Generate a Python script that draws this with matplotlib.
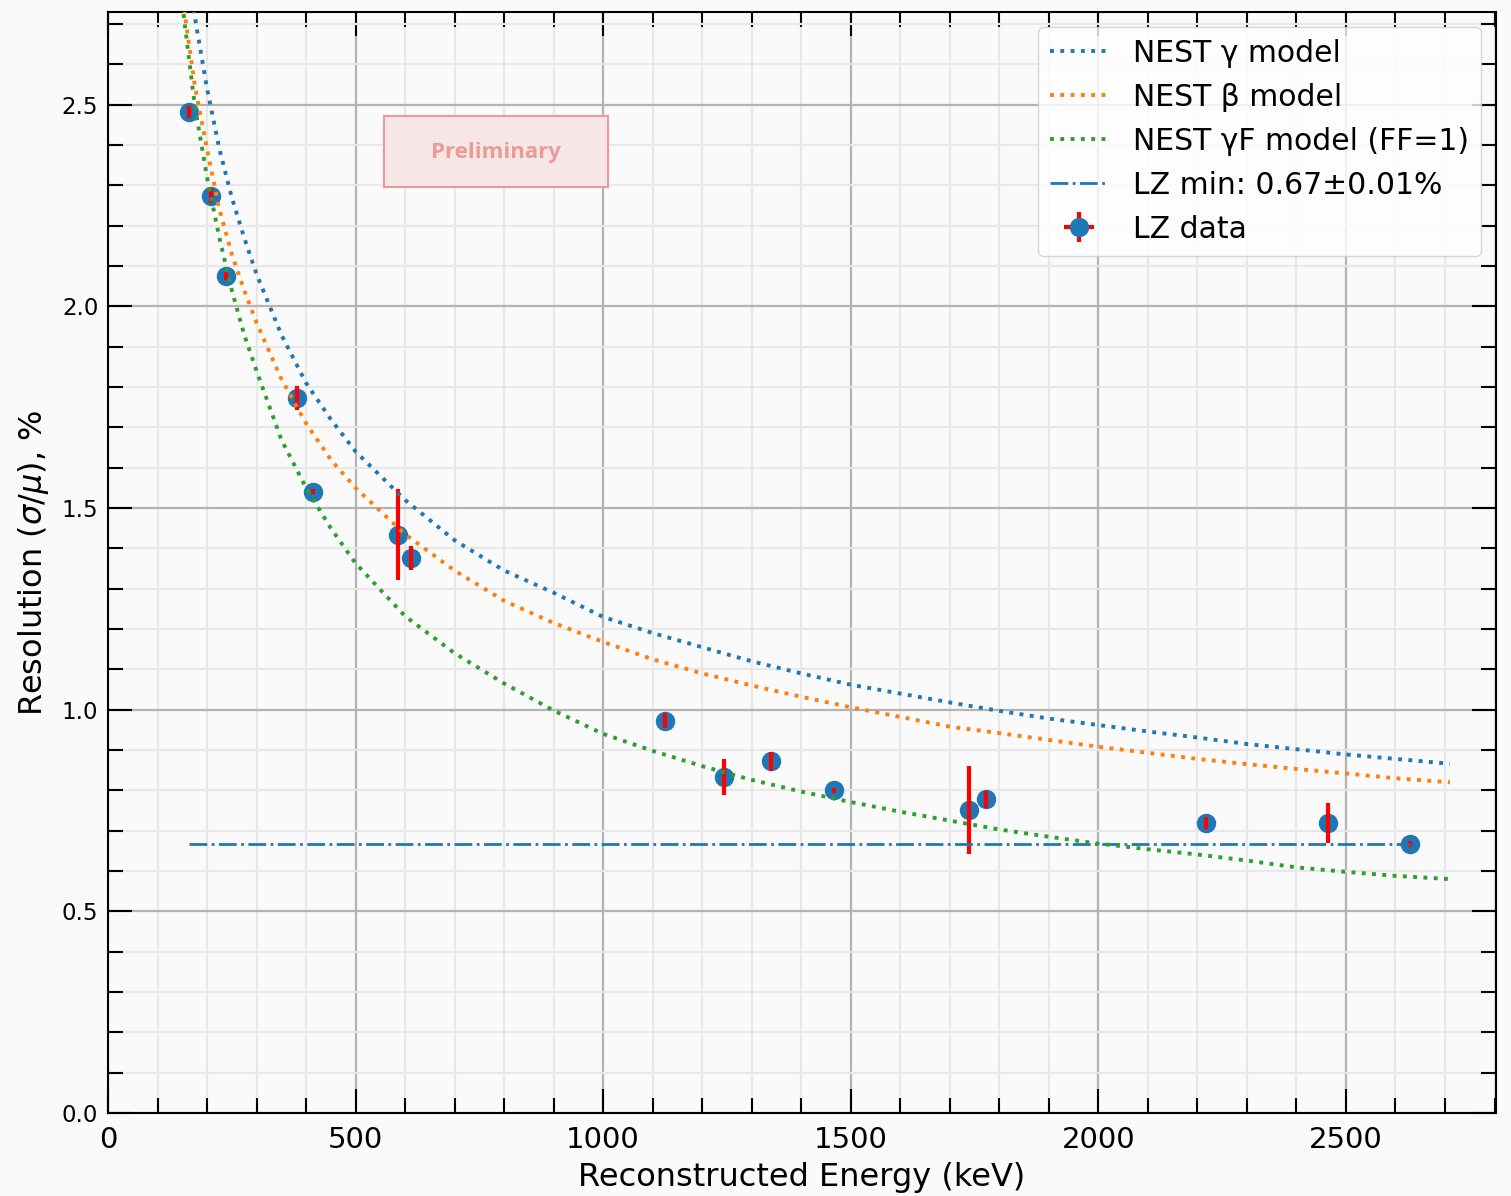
import matplotlib
matplotlib.use("Agg")
import matplotlib.pyplot as plt
from matplotlib.patches import Rectangle
from matplotlib.ticker import MultipleLocator

# ---- data ----
model_energy = [150, 175, 200, 225, 250, 275, 300, 350, 400, 450, 500, 600, 700, 800, 900,
                1000, 1100, 1200, 1300, 1400, 1500, 1600, 1700, 1800, 1900, 2000, 2100,
                2200, 2300, 2400, 2500, 2600, 2710]
nest_gamma = [2.93, 2.72, 2.54, 2.39, 2.27, 2.17, 2.08, 1.93, 1.81, 1.72, 1.64, 1.52, 1.42,
              1.345, 1.29, 1.23, 1.19, 1.155, 1.12, 1.09, 1.062, 1.04, 1.018, 0.997, 0.978,
              0.962, 0.946, 0.931, 0.915, 0.902, 0.889, 0.878, 0.866]
nest_beta = [2.77, 2.55, 2.39, 2.24, 2.13, 2.04, 1.96, 1.82, 1.71, 1.62, 1.55, 1.435, 1.345,
             1.27, 1.215, 1.168, 1.125, 1.09, 1.06, 1.032, 1.006, 0.982, 0.958, 0.942, 0.925,
             0.908, 0.893, 0.878, 0.865, 0.853, 0.842, 0.83, 0.82]
nest_gammaF = [2.75, 2.50, 2.32, 2.17, 2.04, 1.93, 1.84, 1.67, 1.55, 1.45, 1.363, 1.232, 1.14,
               1.065, 0.998, 0.94, 0.898, 0.86, 0.826, 0.797, 0.771, 0.747, 0.725, 0.703,
               0.685, 0.668, 0.654, 0.641, 0.626, 0.609, 0.598, 0.588, 0.580]

data_energy = [164, 208, 238, 381, 413, 585, 612, 1125, 1244, 1338, 1467, 1739, 1774, 2217, 2464, 2630]
data_res = [2.483, 2.275, 2.076, 1.773, 1.541, 1.434, 1.376, 0.973, 0.833, 0.872, 0.800,
            0.751, 0.778, 0.718, 0.719, 0.667]
data_res_err = [0.015, 0.019, 0.010, 0.029, 0.007, 0.113, 0.029, 0.019, 0.045, 0.023, 0.006,
                0.110, 0.021, 0.015, 0.049, 0.007]
data_energy_err = [2, 2, 2, 2, 2, 2, 2, 2, 2, 2, 2, 2, 2, 2, 2, 2]

lz_min = 0.667

bg = "#fafafa"
fig = plt.figure(figsize=(15.11, 11.96), dpi=100, facecolor=bg)
ax = fig.add_axes([108/1511, 1 - 1113/1196, 1388/1511, 1101/1196])
ax.set_facecolor(bg)

ax.plot(model_energy, nest_gamma, ':', color='tab:blue', lw=2.8, label='NEST γ model', zorder=5)
ax.plot(model_energy, nest_beta, ':', color='tab:orange', lw=2.8, label='NEST β model', zorder=5)
ax.plot(model_energy, nest_gammaF, ':', color='tab:green', lw=2.8, label='NEST γF model (FF=1)', zorder=5)
ax.plot([data_energy[0], data_energy[-1]], [lz_min, lz_min], '-.', color='tab:blue', lw=2,
        label='LZ min: 0.67±0.01%', zorder=4)
eb = ax.errorbar(data_energy, data_res, yerr=data_res_err, xerr=data_energy_err, fmt='o',
                 color='tab:blue', ecolor='red', elinewidth=3, ms=13, label='LZ data', zorder=3)
for bc in eb[2]:
    bc.set_zorder(3.5)

ax.set_xlim(0, 2803)
ax.set_ylim(0, 2.73)
ax.xaxis.set_major_locator(MultipleLocator(500))
ax.xaxis.set_minor_locator(MultipleLocator(100))
ax.yaxis.set_major_locator(MultipleLocator(0.5))
ax.yaxis.set_minor_locator(MultipleLocator(0.1))
ax.grid(which='major', color='#b3b3b3', lw=1.6, zorder=0)
ax.grid(which='minor', color='#e8e8e8', lw=1.6, zorder=0)
ax.set_axisbelow(True)

ax.tick_params(which='both', direction='in', top=True, right=True, width=1.5)
ax.tick_params(which='major', length=17)
ax.tick_params(which='minor', length=11)
ax.tick_params(axis='x', which='major', labelsize=21, pad=9)
ax.tick_params(axis='y', which='major', labelsize=16.5, pad=7)
for s in ax.spines.values():
    s.set_linewidth(1.5)

ax.set_xlabel('Reconstructed Energy (keV)', fontsize=23, labelpad=6)
ax.set_ylabel(r'Resolution ($\sigma/\mu$), %', fontsize=23, labelpad=8)

ax.add_patch(Rectangle((0.1988, 0.841), 0.1614, 0.0645, transform=ax.transAxes,
                       facecolor='#f6e6e6', edgecolor='#eb9a9a', lw=1.5, zorder=6))
ax.text(0.2795, 0.8728, 'Preliminary', transform=ax.transAxes, ha='center', va='center',
        fontsize=16, fontweight='bold', family='Open Sans', color='#eb9a9a', zorder=7)

ax.legend(loc='upper right', fontsize=21.5)

fig.savefig('out.png', dpi=100, facecolor=bg)
